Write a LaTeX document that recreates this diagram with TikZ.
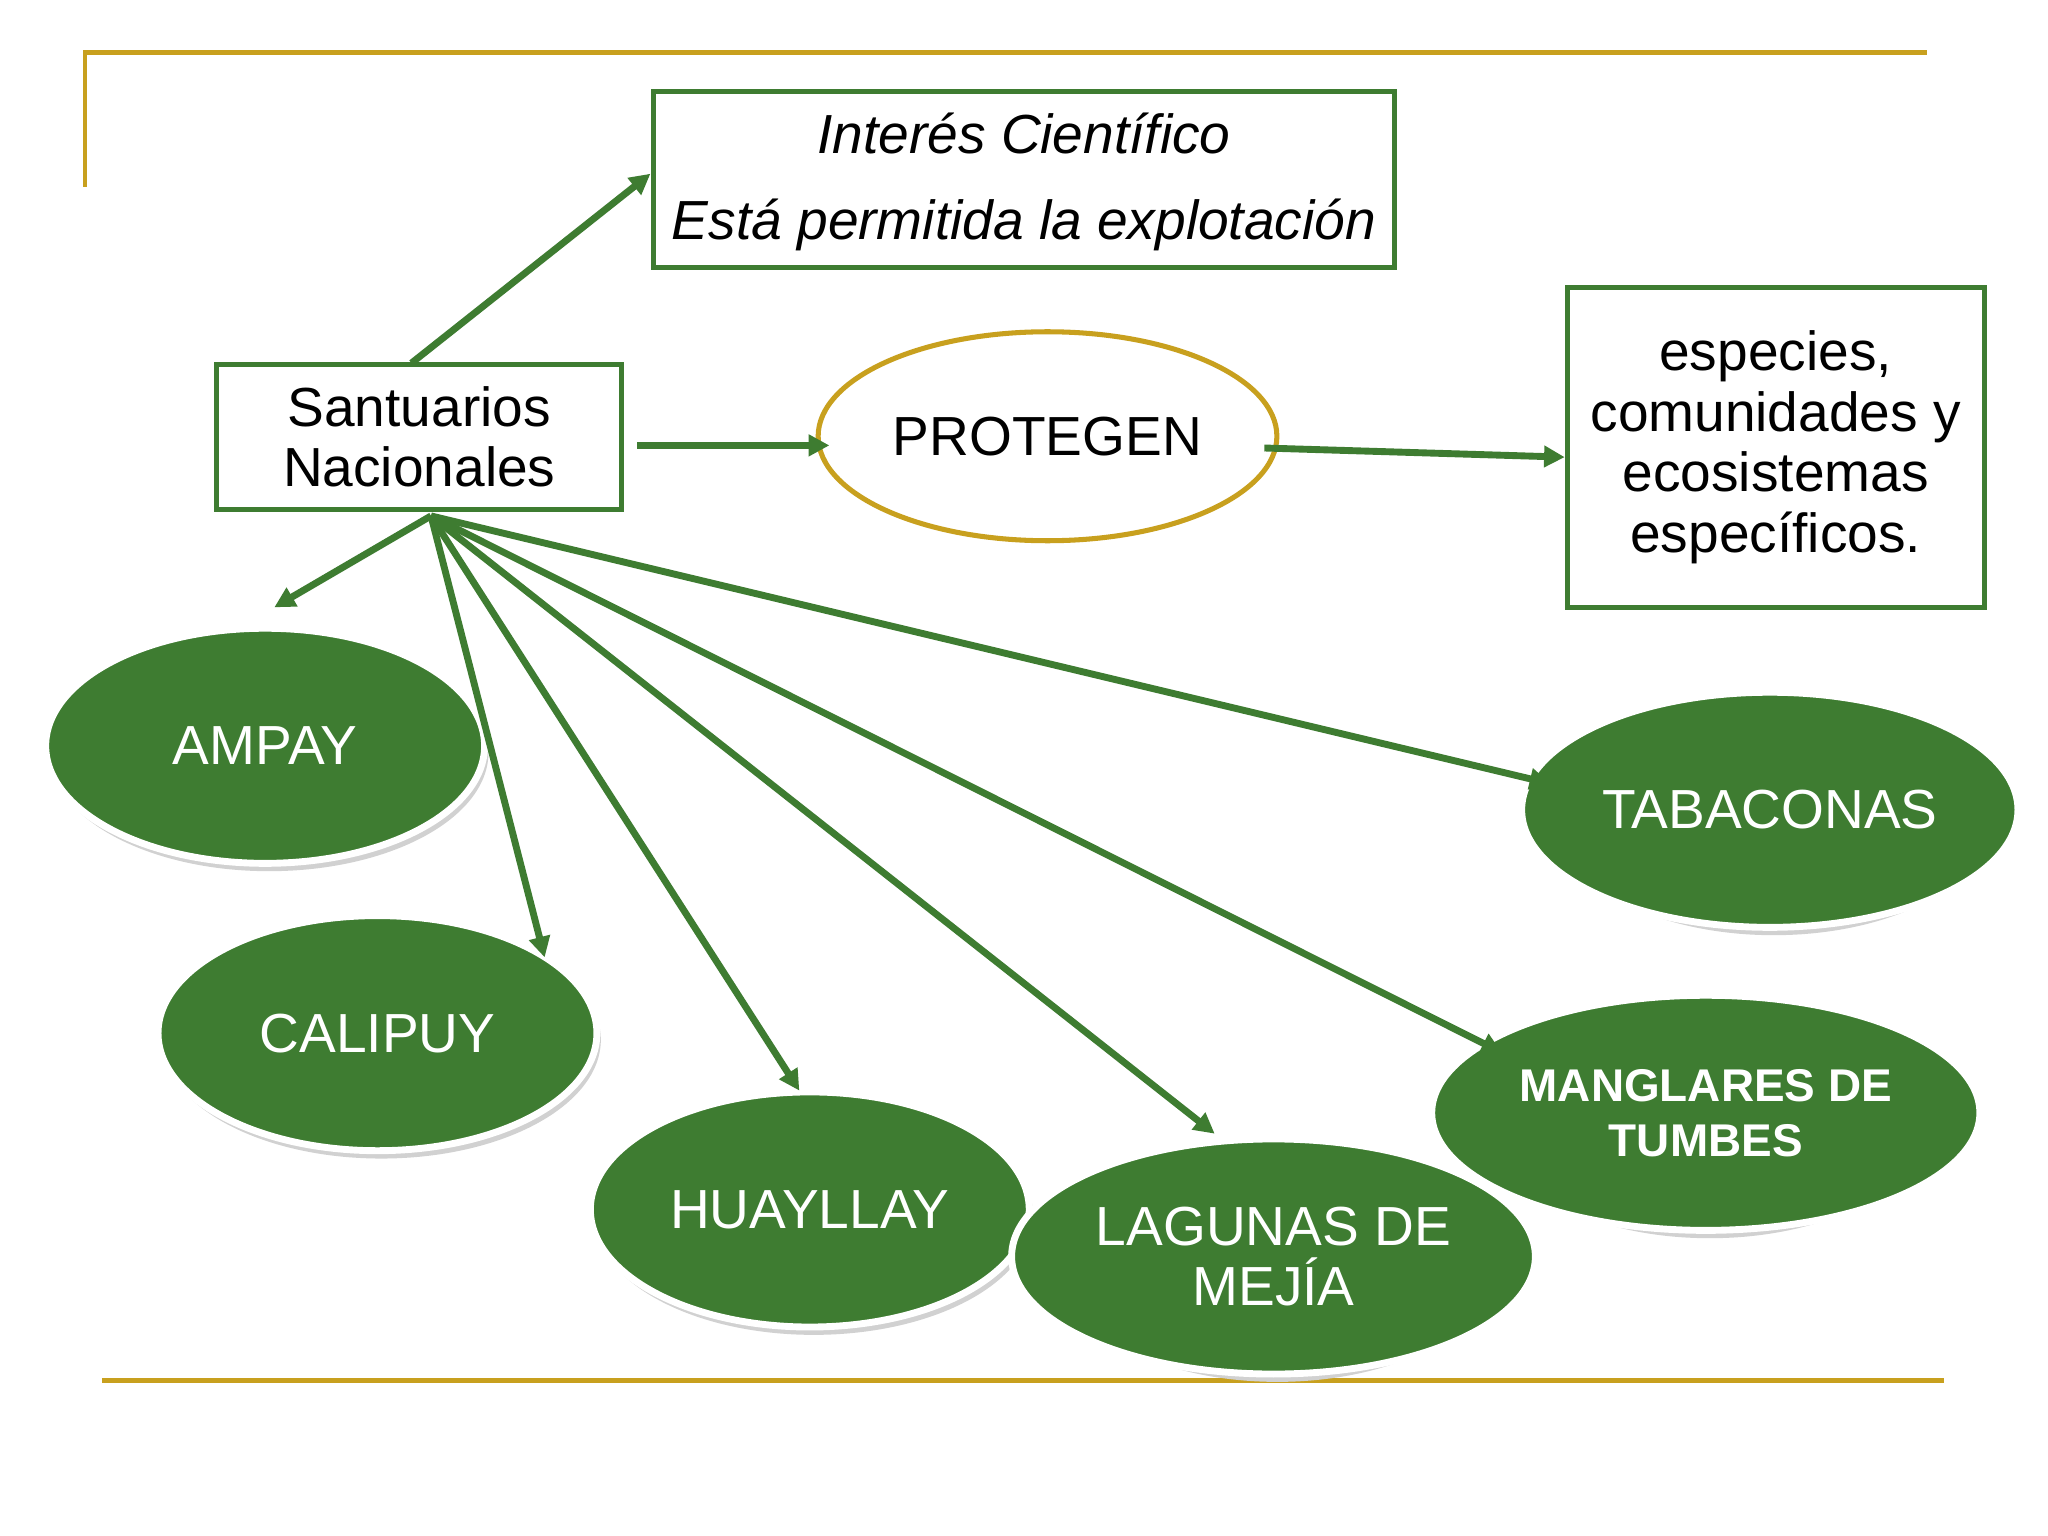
\documentclass[tikz,border=0pt]{standalone}
\usepackage{fontspec}
\setmainfont{Liberation Sans}
\usetikzlibrary{arrows.meta,shapes.geometric}
\definecolor{hoja}{RGB}{62,124,49}
\definecolor{oro}{RGB}{200,160,30}
\begin{document}
\begin{tikzpicture}[x=0.02cm,y=-0.02cm,
  caja/.style={draw=hoja,line width=2.2pt,align=center,inner sep=0pt},
  sitio/.style={ellipse,fill=hoja,draw=white,line width=3pt,
    text=white,align=center,font=\fontsize{24}{26}\selectfont},
  flecha/.style={draw=hoja,line width=3pt,-{Triangle[length=9pt,width=9pt]}},
  linea/.style={draw=oro,line width=2pt}]
\useasboundingbox (0,0) rectangle (1568,1176);
\fill[white] (0,0) rectangle (1568,1176);
\draw[linea] (65,143) -- (65,40) -- (1475,40);
\draw[linea] (78,1057) -- (1488,1057);
% cajas
\node[caja,minimum width=568*0.02cm,minimum height=135*0.02cm] (interes) at (784,137.5) {};
\node[font=\fontsize{24}{26}\selectfont\itshape] (t1) at (784,102) {Interés Científico};
\node[font=\fontsize{24}{26}\selectfont\itshape] (t2) at (784,172) {Está permitida la explotación};
\node[caja,minimum width=310*0.02cm,minimum height=111*0.02cm,
  font=\fontsize{24}{26.5}\selectfont] (sant) at (321,334.5) {Santuarios\\Nacionales};
\node[ellipse,draw=oro,line width=2.2pt,minimum width=332*0.02cm,minimum height=160*0.02cm,
  font=\fontsize{24}{26}\selectfont] (prot) at (802,334) {PROTEGEN};
\node[caja,minimum width=319*0.02cm,minimum height=245*0.02cm,
  font=\fontsize{24}{26.5}\selectfont] (esp) at (1359.5,342.5) {especies,\\comunidades y\\ecosistemas\\específicos.};
% elipses verdes
\foreach \n/\x/\y/\t in {ampay/203/571/AMPAY,calipuy/289/791/CALIPUY,huay/620/926/HUAYLLAY,
  lag/975/962/{LAGUNAS DE\\MEJÍA},tab/1355/620/TABACONAS}{
  \fill[black!18] (\x+3,\y+5) ellipse (168 and 91);
  \node[sitio,minimum width=336*0.02cm,minimum height=180*0.02cm] (\n) at (\x,\y) {\t};
}
\fill[black!18] (1309,857) ellipse (168 and 91);
\node[sitio,minimum width=336*0.02cm,minimum height=180*0.02cm,
  font=\fontsize{20}{24}\selectfont\bfseries] (mang) at (1306,852) {MANGLARES DE\\TUMBES};
% puntos
\coordinate (hub) at (330,395);
\coordinate (salida) at (315,278);
\coordinate (llega) at (498,133);
\coordinate (a0) at (488,341);
\coordinate (a1) at (635,341);
\coordinate (b0) at (968,343);
\coordinate (b1) at (1198,350);
\coordinate (pa) at (210,465);
\coordinate (pc) at (417,733);
\coordinate (ph) at (612,835);
\coordinate (pl) at (930,868);
\coordinate (pm) at (1150,806);
\coordinate (pt) at (1187,600);
\draw[flecha] (salida) -- (llega);
\draw[flecha] (a0) -- (a1);
\draw[flecha] (b0) -- (b1);
\foreach \p in {pa,pc,ph,pl,pm,pt}{\draw[flecha] (hub) -- (\p);}
\end{tikzpicture}
\end{document}
